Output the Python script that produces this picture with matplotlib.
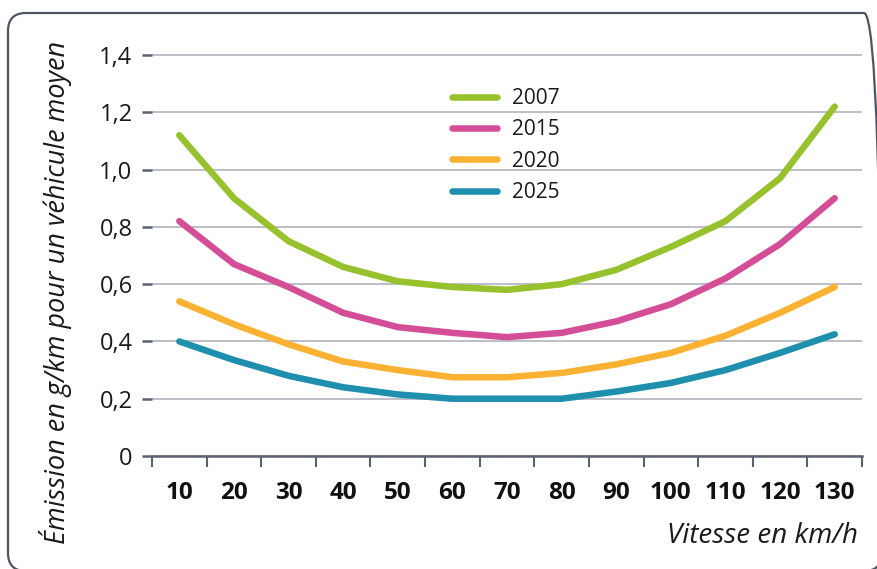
#!/usr/bin/env python3
"""Emission en g/km selon la vitesse, par année."""

import matplotlib
matplotlib.use("Agg")
import matplotlib.pyplot as plt
from matplotlib.patches import FancyBboxPatch
from matplotlib.transforms import IdentityTransform

plt.rcParams['font.family'] = ['Open Sans', 'DejaVu Sans']

# Données
vitesses = [10, 20, 30, 40, 50, 60, 70, 80, 90, 100, 110, 120, 130]
annees = ['2007', '2015', '2020', '2025']
em_2007 = [1.12, 0.90, 0.75, 0.66, 0.61, 0.59, 0.58, 0.60, 0.65, 0.73, 0.82, 0.97, 1.22]
em_2015 = [0.82, 0.67, 0.59, 0.50, 0.45, 0.43, 0.415, 0.43, 0.47, 0.53, 0.62, 0.74, 0.90]
em_2020 = [0.54, 0.46, 0.39, 0.33, 0.30, 0.275, 0.275, 0.29, 0.32, 0.36, 0.42, 0.50, 0.59]
em_2025 = [0.40, 0.335, 0.28, 0.24, 0.215, 0.20, 0.20, 0.20, 0.225, 0.255, 0.30, 0.36, 0.425]
y_ticks = [0, 0.2, 0.4, 0.6, 0.8, 1.0, 1.2, 1.4]
y_labels = ['0', '0,2', '0,4', '0,6', '0,8', '1,0', '1,2', '1,4']

couleurs = ['#97c22e', '#d44e97', '#fbb131', '#1f8fae']
series = [em_2007, em_2015, em_2020, em_2025]

W, H = 877, 569
fig = plt.figure(figsize=(W / 100, H / 100), dpi=100)

# cadre arrondi (en pixels)
cadre = FancyBboxPatch((8, -2), 874, 558,
                       boxstyle="round,pad=0,rounding_size=18",
                       transform=IdentityTransform(), facecolor='none',
                       edgecolor='#4d5563', linewidth=1.6, clip_on=False)
fig.patches.append(cadre)

ax = fig.add_axes([152 / W, 1 - 456 / H, 710 / W, (456 - 49.3) / H])
ax.set_xlim(5, 135)
ax.set_ylim(0, 1.42)

for vals, col, lab in zip(series, couleurs, annees):
    ax.plot(vitesses, vals, color=col, lw=4.7, solid_capstyle='round',
            solid_joinstyle='round', label=lab, zorder=3)

# grille
ax.set_yticks(y_ticks)
ax.set_yticklabels(y_labels, fontsize=17, color='#1a1a1a')
ax.yaxis.grid(True, color='#a9adb8', lw=1.1)
ax.set_axisbelow(True)
ax.tick_params(axis='y', length=7, width=1.8, color='#5a6170', pad=7)

# axe x : graduations aux bords, étiquettes au centre
ax.set_xticks(vitesses)
ax.set_xticklabels([str(v) for v in vitesses], fontsize=17.5, fontweight='bold',
                   color='#111111')
ax.tick_params(axis='x', length=0, pad=18)
ax.set_xticks([5 + 10 * i for i in range(14)], minor=True)
ax.tick_params(axis='x', which='minor', length=8, width=1.5, color='#5a6170')

for s in ['top', 'right', 'left']:
    ax.spines[s].set_visible(False)
ax.spines['bottom'].set_color('#5a6170')
ax.spines['bottom'].set_linewidth(1.8)

leg = ax.legend(loc='upper left', bbox_to_anchor=(300 / 710, 0.905), frameon=False,
                fontsize=15, handlelength=2.16, handletextpad=0.72,
                labelspacing=0.5, borderpad=0, borderaxespad=0)
for t in leg.get_texts():
    t.set_color('#1a1a1a')

fig.text(56 / W, 1 - 292 / H, 'Émission en g/km pour un véhicule moyen',
         rotation=90, ha='center', va='center', fontsize=19.5, style='italic',
         color='#1a1a1a')
fig.text(858 / W, 1 - 543 / H, 'Vitesse en km/h', ha='right', va='baseline',
         fontsize=20, style='italic', color='#1a1a1a')

fig.savefig('out.png', dpi=100)
plt.close()
